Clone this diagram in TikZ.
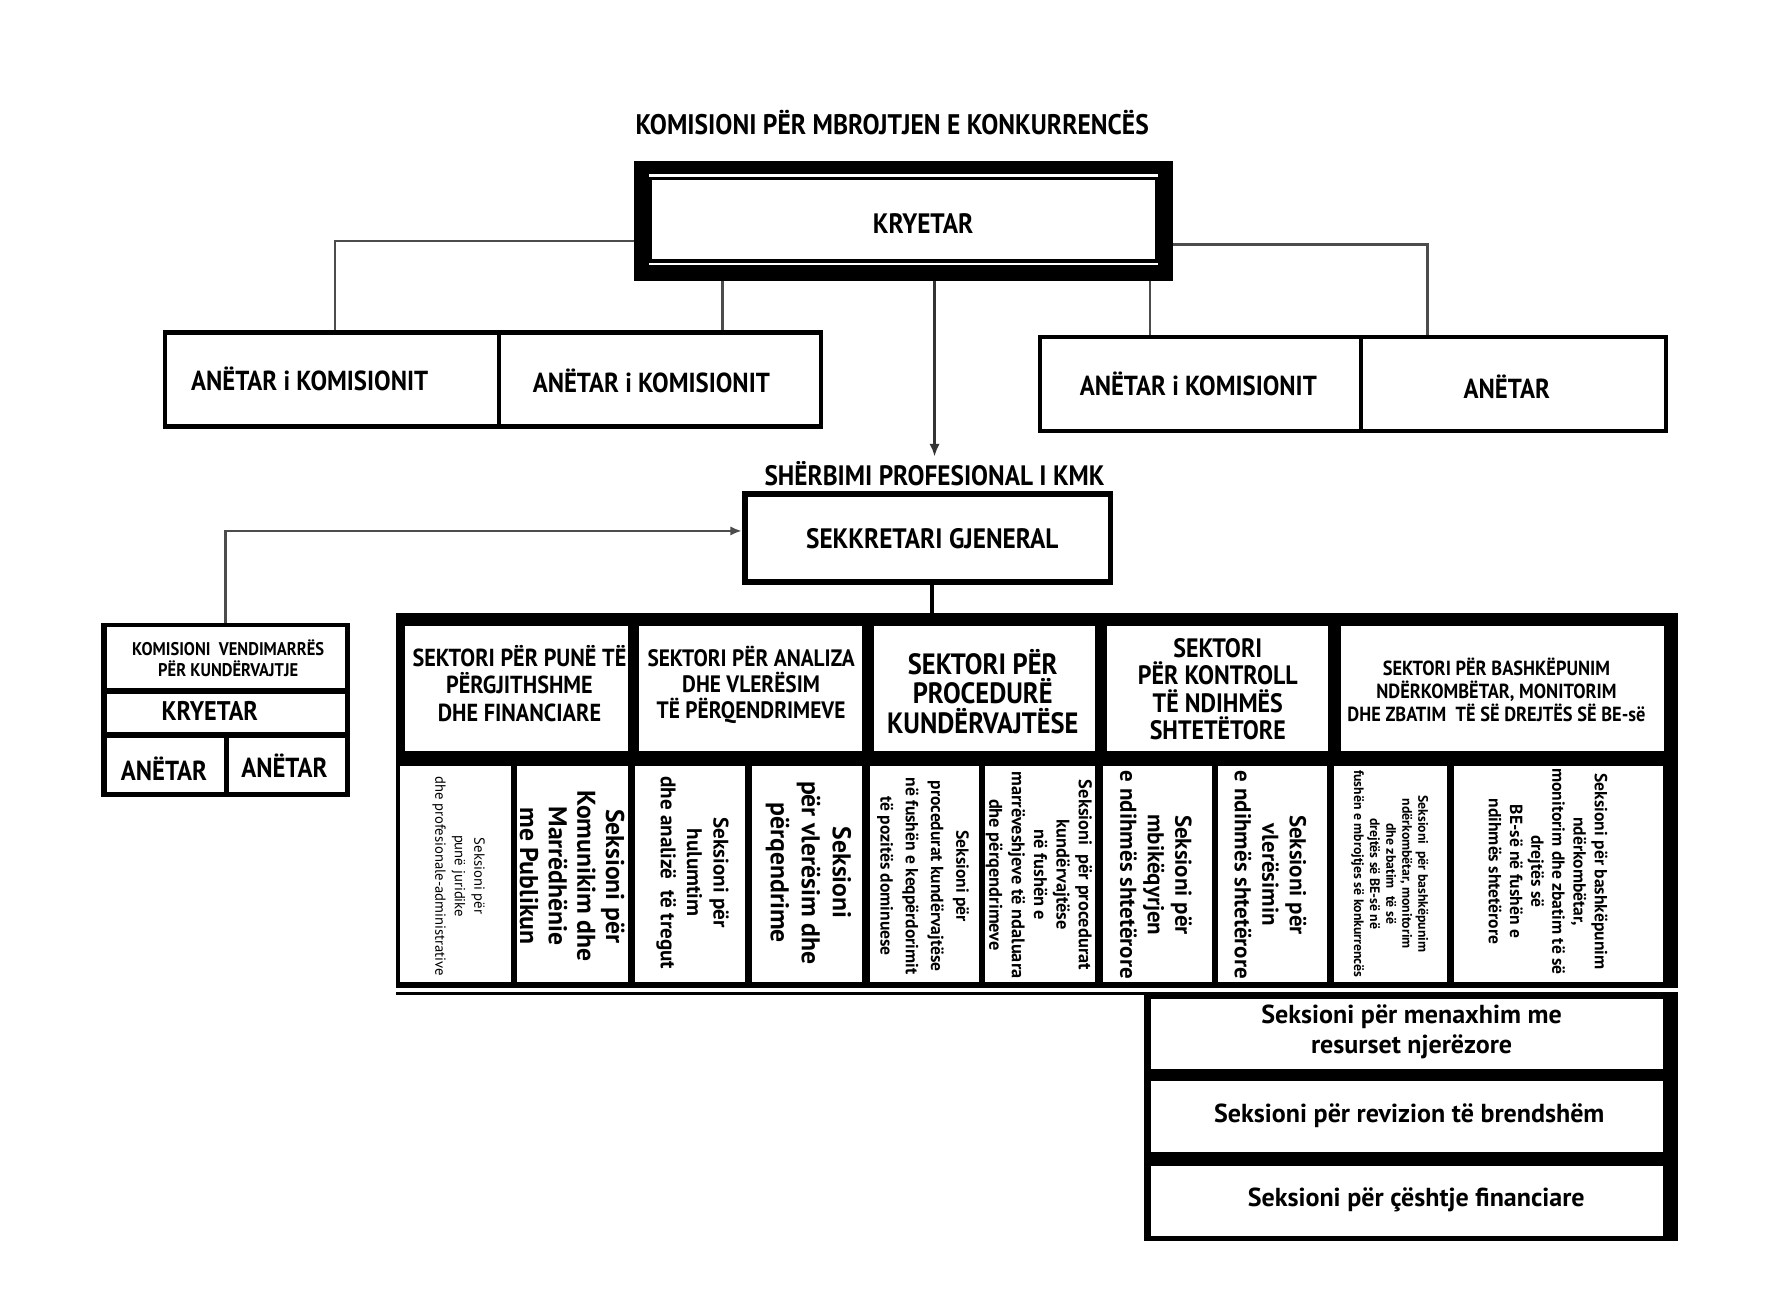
\documentclass[tikz,border=0pt]{standalone}
\usepackage{fontspec}
\setmainfont{PT Sans}
\newfontfamily\cond[FakeStretch=0.9]{PT Sans}
\usetikzlibrary{arrows.meta}
\newcommand\fs[2]{\fontsize{#1}{#2}\selectfont}
\newcommand\bx[6]{\node[#6, minimum width={#4-#2}, minimum height={#5-#3}] (#1) at ({(#2+#4)/2},{(#3+#5)/2}) {};}
\tikzset{
  blk/.style={fill=black, draw=none, inner sep=0pt, outer sep=0pt, rectangle},
  cell/.style={fill=white, draw=none, inner sep=0pt, outer sep=0pt, rectangle},
  hd/.style 2 args={inner sep=0pt, align=center, font=\cond\bfseries\fs{#1}{#2}},
  sec/.style 2 args={inner sep=0pt, align=center, rotate=-90, font=\bfseries\fs{#1}{#2}},
  secr/.style 2 args={inner sep=0pt, align=center, rotate=-90, font=\fs{#1}{#2}},
  bt/.style 2 args={inner sep=0pt, align=center, font=\bfseries\fs{#1}{#2}},
  conn/.style={draw=black!70, line width=2.2pt},
}
\begin{document}
\begin{tikzpicture}[x=1pt,y=-1pt]
\useasboundingbox (0,0) rectangle (1561,1128);
\fill[white] (0,0) rectangle (1561,1128);

% title
\node[hd={24.7}{28}] (title) at (778,107) {KOMISIONI PËR MBROJTJEN E KONKURRENCËS};

% KRYETAR frame
\bx{kr}{553}{140}{1023}{245}{blk}
\bx{krl1}{566}{151.5}{1010}{154}{cell}
\bx{krin}{569}{157}{1007}{226}{cell}
\bx{krl2}{566}{229}{1010}{231.5}{cell}
\node[hd={24.5}{28}] (krt) at (805,195) {KRYETAR};

% members left
\bx{mg1}{142}{288}{718}{374}{blk}
\bx{m1}{146}{292}{433}{370}{cell}
\bx{m2}{437}{292}{714}{370}{cell}
\node[hd={24}{28}] (m1t) at (270,330) {ANËTAR i KOMISIONIT};
\node[hd={24}{28}] (m2t) at (568,332) {ANËTAR i KOMISIONIT};

% members right
\bx{mg2}{905}{292}{1455}{378}{blk}
\bx{m3}{909}{296}{1185}{374}{cell}
\bx{m4}{1189}{296}{1451}{374}{cell}
\node[hd={24}{28}] (m3t) at (1045,335) {ANËTAR i KOMISIONIT};
\node[hd={24}{28}] (m4t) at (1314,337) {ANËTAR};

% connectors from KRYETAR
\draw[conn] (kr.west |- 0,210) -| (mg1.north -| 292,0);
\draw[conn] (kr.south -| 630,0) -- (mg1.north -| 630,0);
\draw[conn] (kr.south -| 1003,0) -- (mg2.north -| 1003,0);
\draw[conn] (kr.east |- 0,213) -| (mg2.north -| 1245,0);

% professional service
\node[hd={24.5}{28}] (sh) at (815,413) {SHËRBIMI PROFESIONAL I KMK};
\draw[conn, draw=black!80, -{Latex[length=11pt,width=9pt]}] (kr.south -| sh.north) -- ([yshift=4pt]sh.north);

% secretary general
\bx{sg}{647}{428}{971}{510}{blk}
\bx{sgi}{652}{433}{966}{505}{cell}
\node[hd={24.5}{28}] (sgt) at (813,470) {SEKKRETARI GJENERAL};

% decision commission
\bx{kc}{88}{543}{305}{695}{blk}
\bx{k1}{93}{547}{301}{600}{cell}
\bx{k2}{93}{605}{301}{638}{cell}
\bx{k3}{93}{644}{195}{691}{cell}
\bx{k4}{200}{644}{301}{691}{cell}
\node[hd={16}{18}] (k1t) at (199,574) {KOMISIONI\ \ VENDIMARRËS\\PËR KUNDËRVAJTJE};
\node[hd={23.5}{26}] (k2t) at (183,620) {KRYETAR};
\node[hd={24}{26}] (k3t) at (143,670) {ANËTAR};
\node[hd={24}{26}] (k4t) at (248,668) {ANËTAR};
\draw[conn, -{Latex[length=10pt,width=8pt]}] (kc.north) |- ([yshift=6pt]sg.west);

% sector table
\bx{tb}{345}{535}{1463}{862}{blk}
\draw[line width=3.5pt] (sg.south -| 813,0) -- (tb.north -| 813,0);
\bx{s1}{353}{546}{548}{655}{cell}
\bx{s2}{557}{546}{752}{655}{cell}
\bx{s3}{762}{546}{955}{655}{cell}
\bx{s4}{965}{546}{1158}{655}{cell}
\bx{s5}{1169}{546}{1451}{655}{cell}
\node[hd={21.5}{24}] (s1t) at (453,596) {SEKTORI PËR PUNË TË\\PËRGJITHSHME\\DHE FINANCIARE};
\node[hd={20.7}{22.5}] (s2t) at (655,597) {SEKTORI PËR ANALIZA\\DHE VLERËSIM\\TË PËRQENDRIMEVE};
\node[hd={25.6}{26}] (s3t) at (857,603) {SEKTORI PËR\\PROCEDURË\\KUNDËRVAJTËSE};
\node[hd={23.2}{24}] (s4t) at (1062,601) {SEKTORI\\PËR KONTROLL\\TË NDIHMËS\\SHTETËTORE};
\node[hd={17.8}{20}] (s5t) at (1305,602) {SEKTORI PËR BASHKËPUNIM\\NDËRKOMBËTAR, MONITORIM\\DHE ZBATIM\ \ TË SË DREJTËS SË BE-së};

\bx{q1}{349}{668}{446}{856}{cell}
\bx{q2}{451}{668}{548}{856}{cell}
\bx{q3}{554}{668}{650}{856}{cell}
\bx{q4}{656}{668}{752}{856}{cell}
\bx{q5}{759}{668}{854}{856}{cell}
\bx{q6}{859}{668}{955}{856}{cell}
\bx{q7}{962}{668}{1057}{856}{cell}
\bx{q8}{1062}{668}{1157}{856}{cell}
\bx{q9}{1163}{668}{1262}{856}{cell}
\bx{q10}{1268}{668}{1450}{856}{cell}
\node[secr={12.8}{17}] (q1t) at (400,764) {Seksioni për\\punë juridike\\dhe profesionale-administrative};
\node[sec={22.4}{25}] (q2t) at (499,764) {Seksioni për\\Komunikim dhe\\Marrëdhënie\\me Publikun};
\node[sec={18.4}{23}] (q3t) at (604,761) {Seksioni për\\hulumtim\\dhe analizë\ \ të tregut};
\node[sec={22.4}{27}] (q4t) at (705,761) {Seksioni\\për vlerësim dhe\\përqendrime};
\node[sec={15.3}{22}] (q5t) at (805,764) {Seksioni për\\procedurat kundërvajtëse\\në fushën e keqpërdorimit\\të pozitës dominuese};
\node[sec={16}{19.5}] (q6t) at (906,763) {Seksioni\ \ për procedurat\\kundërvajtëse\\në fushën e\\marrëveshjeve të ndaluara\\dhe përqendrimeve};
\node[sec={20}{24}] (q7t) at (1008,763) {Seksioni për\\mbikëqyrjen\\e ndihmës shtetërore};
\node[sec={20}{24}] (q8t) at (1108,763) {Seksioni për\\vlerësimin\\e ndihmës shtetërore};
\node[sec={12}{14}] (q9t) at (1212,762) {Seksioni\ \ për bashkëpunim\\ndërkombëtar, monitorim\\dhe zbatim\ \ të së\\drejtës së BE-së në\\fushën e mbrojtjes së konkurrencës};
\node[sec={15.3}{18.5}] (q10t) at (1350,760) {Seksioni për bashkëpunim\\ndërkombëtar,\\monitorim dhe zbatim të së\\drejtës së\\BE-së në fushën e\\ndihmës shtetërore};

% bottom sections
\bx{tl}{345}{865}{1455}{868}{blk}
\bx{bb}{998}{865}{1463}{1082}{blk}
\bx{ba}{1004}{871}{1450}{932}{cell}
\bx{bbx}{1004}{943}{1450}{1005}{cell}
\bx{bc}{1004}{1017}{1450}{1078}{cell}
\node[bt={22.7}{26}] (bat) at (1231,900) {Seksioni për menaxhim me\\resurset njerëzore};
\node[bt={22.7}{26}] (bbt) at (1229,973) {Seksioni për revizion të brendshëm};
\node[bt={22.7}{26}] (bct) at (1235,1046) {Seksioni për çështje financiare};
\end{tikzpicture}
\end{document}
